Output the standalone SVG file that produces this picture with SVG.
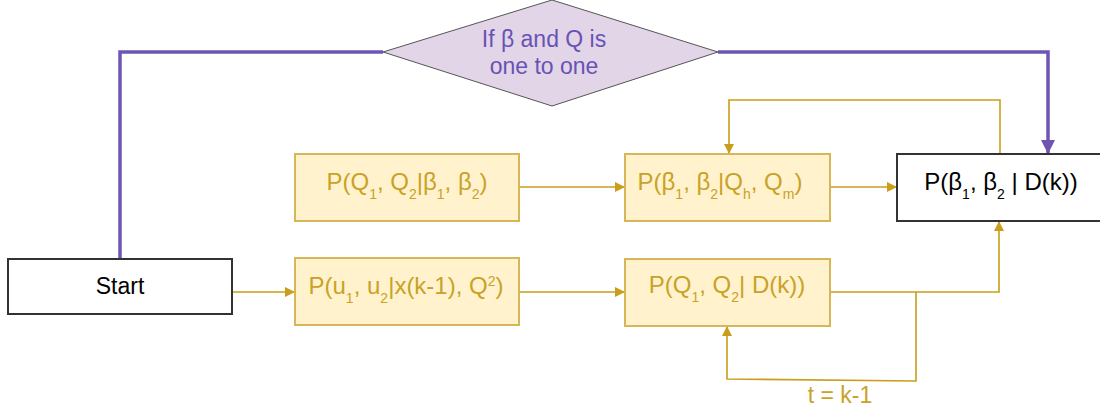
<svg xmlns="http://www.w3.org/2000/svg" width="1100" height="410" viewBox="0 0 1100 410">
<style>
text{font-family:"Liberation Sans",Arial,sans-serif;font-size:23px}
.yb{fill:#fff2cc;stroke:#d6b656;stroke-width:2}
.wb{fill:#ffffff;stroke:#333333;stroke-width:2}
.yt{fill:#c9a227}
.bx{font-size:24px}
.bt{fill:#000000}
.pt{fill:#6a52b5}
.sub{font-size:14px}
.gl{fill:none;stroke:#c99e1a;stroke-width:1.6}
.pl{fill:none;stroke:#6f55b3;stroke-width:3.5}
</style>
<defs>
<marker id="ga" viewBox="0 0 10 10" refX="10" refY="5" markerWidth="10" markerHeight="10" markerUnits="userSpaceOnUse" orient="auto">
<path d="M0,0 L10,5 L0,10 z" fill="#c99e1a"/>
</marker>
<marker id="pa" viewBox="0 0 10 10" refX="10" refY="5" markerWidth="18" markerHeight="14" markerUnits="userSpaceOnUse" orient="auto">
<path d="M0,0 L10,5 L0,10 z" fill="#6f55b3"/>
</marker>
</defs>
<g id="connectors">
<polyline class="pl" points="120,259 120,52 383,52"/>
<polyline class="pl" points="718,52 1048,52 1048,154" marker-end="url(#pa)"/>
<polyline class="gl" points="232,292 295,292" marker-end="url(#ga)"/>
<polyline class="gl" points="519,187 625,187" marker-end="url(#ga)"/>
<polyline class="gl" points="830,187 897,187" marker-end="url(#ga)"/>
<polyline class="gl" points="519,292 625,292" marker-end="url(#ga)"/>
<polyline class="gl" points="830,292 999,292 999,221" marker-end="url(#ga)"/>
<polyline class="gl" points="1000,154 1000,100 729,100 729,154" marker-end="url(#ga)"/>
<polyline class="gl" points="916,292 916,381 727,379 727,326" marker-end="url(#ga)"/>
<text class="yt" x="840" y="403" text-anchor="middle">t = k-1</text>
</g>
<g id="decision">
<polygon points="383,52 552,0 718,52 552,106" fill="#e1d5e7" stroke="#555555" stroke-width="1"/>
<text class="pt" x="544" y="47" text-anchor="middle">If β and Q is</text>
<text class="pt" x="544" y="74" text-anchor="middle">one to one</text>
</g>
<g id="start">
<rect class="wb" x="8" y="259" width="224" height="55"/>
<text class="bt" x="120" y="294" text-anchor="middle">Start</text>
</g>
<g id="pQgivenBeta">
<rect class="yb" x="295" y="154" width="224" height="67"/>
<text class="yt bx" x="407" y="190" text-anchor="middle">P(Q<tspan class="sub" dy="9">1</tspan><tspan dy="-9">, Q</tspan><tspan class="sub" dy="9">2</tspan><tspan dy="-9">|β</tspan><tspan class="sub" dy="9">1</tspan><tspan dy="-9">, β</tspan><tspan class="sub" dy="9">2</tspan><tspan dy="-9">)</tspan></text>
</g>
<g id="pBetaGivenQ">
<rect class="yb" x="625" y="154" width="205" height="67"/>
<text class="yt bx" x="720" y="190" text-anchor="middle">P(β<tspan class="sub" dy="9">1</tspan><tspan dy="-9">, β</tspan><tspan class="sub" dy="9">2</tspan><tspan dy="-9">|Q</tspan><tspan class="sub" dy="9">h</tspan><tspan dy="-9">, Q</tspan><tspan class="sub" dy="9">m</tspan><tspan dy="-9">)</tspan></text>
</g>
<g id="pU">
<rect class="yb" x="295" y="258" width="224" height="67"/>
<text class="yt bx" x="406" y="294" text-anchor="middle">P(u<tspan class="sub" dy="9">1</tspan><tspan dy="-9">, u</tspan><tspan class="sub" dy="9">2</tspan><tspan dy="-9">|x(k-1), Q</tspan><tspan class="sub" dy="-8">2</tspan><tspan dy="8">)</tspan></text>
</g>
<g id="pQgivenD">
<rect class="yb" x="625" y="259" width="205" height="67"/>
<text class="yt bx" x="727" y="293" text-anchor="middle">P(Q<tspan class="sub" dy="9">1</tspan><tspan dy="-9">, Q</tspan><tspan class="sub" dy="9">2</tspan><tspan dy="-9">| D(k))</tspan></text>
</g>
<g id="pBetaGivenD">
<rect class="wb" x="897" y="154" width="210" height="67"/>
<text class="bt bx" x="1001" y="190" text-anchor="middle">P(β<tspan class="sub" dy="9">1</tspan><tspan dy="-9">, β</tspan><tspan class="sub" dy="9">2</tspan><tspan dy="-9"> | D(k))</tspan></text>
</g>
</svg>
